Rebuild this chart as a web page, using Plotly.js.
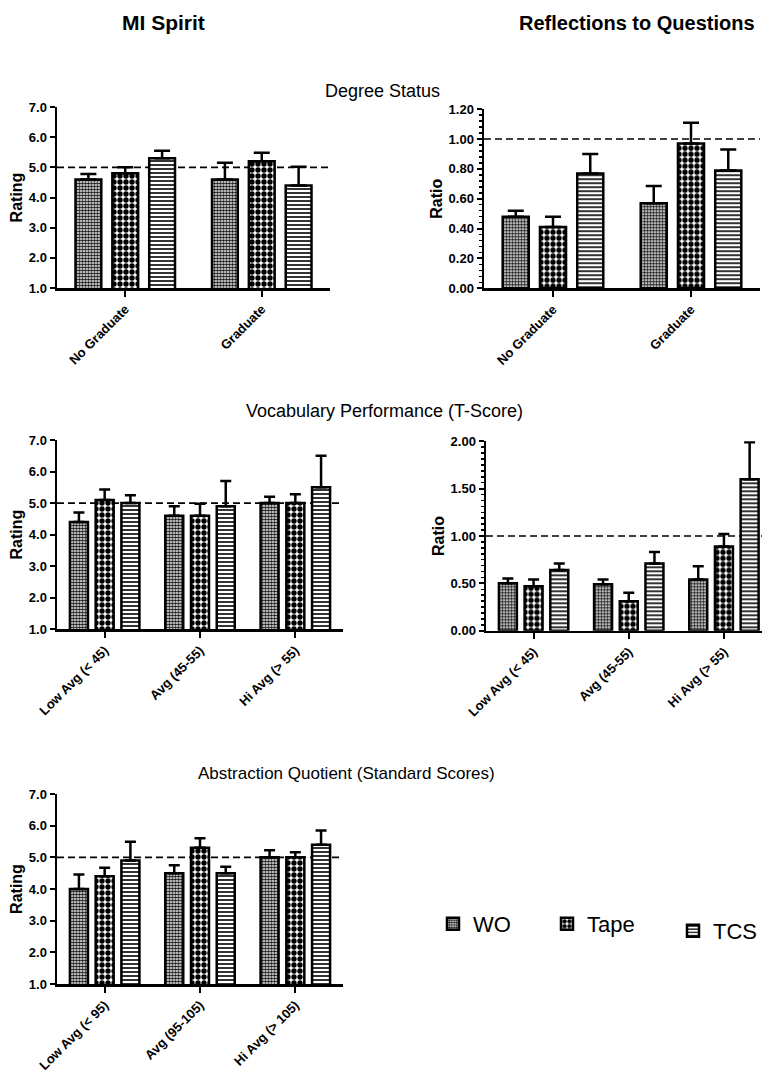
<!DOCTYPE html>
<html>
<head>
<meta charset="utf-8">
<script src="https://cdn.plot.ly/plotly-3.0.1.min.js"></script>
<style>
  html, body { margin: 0; padding: 0; background: #ffffff; }
  #chart { width: 762px; height: 1077px; }
</style>
</head>
<body>
<div id="chart"></div>
<script>
// ---------------- DATA ----------------
const seriesNames = ['WO', 'Tape', 'TCS'];

const degreeCats = ['No Graduate', 'Graduate'];
const vocabCats = ['Low Avg (< 45)', 'Avg (45-55)', 'Hi Avg (> 55)'];
const abstractCats = ['Low Avg (< 95)', 'Avg (95-105)', 'Hi Avg (> 105)'];

// rows: WO, Tape, TCS
const degreeSpiritMean = [[4.6, 4.6], [4.8, 5.2], [5.3, 4.4]];
const degreeSpiritErr  = [[0.18, 0.55], [0.20, 0.28], [0.25, 0.62]];

const degreeRatioMean = [[0.48, 0.57], [0.41, 0.97], [0.77, 0.79]];
const degreeRatioErr  = [[0.04, 0.115], [0.07, 0.14], [0.13, 0.14]];

const vocabSpiritMean = [[4.4, 4.6, 5.0], [5.1, 4.6, 5.0], [5.0, 4.9, 5.5]];
const vocabSpiritErr  = [[0.30, 0.30, 0.20], [0.33, 0.38, 0.28], [0.25, 0.80, 1.00]];

const vocabRatioMean = [[0.50, 0.49, 0.54], [0.47, 0.31, 0.89], [0.64, 0.71, 1.60]];
const vocabRatioErr  = [[0.05, 0.05, 0.14], [0.07, 0.09, 0.13], [0.07, 0.12, 0.39]];

const abstractSpiritMean = [[4.0, 4.5, 5.0], [4.4, 5.3, 5.0], [4.9, 4.5, 5.4]];
const abstractSpiritErr  = [[0.46, 0.25, 0.22], [0.27, 0.30, 0.16], [0.59, 0.20, 0.45]];

const ratingRefLine = 5.0;
const ratioRefLine = 1.0;

// ---------------- STYLE ----------------
const W = 762, H = 1077;
const FONT = 'Liberation Sans, Arial, Helvetica, sans-serif';
const patterns = [
  {shape: '.', size: 3, solidity: 0.65, fgcolor: '#1a1a1a', bgcolor: '#ffffff', fillmode: 'replace'},
  {shape: '.', size: 6, solidity: 0.62, fgcolor: '#000000', bgcolor: '#ffffff', fillmode: 'replace'},
  {shape: '-', size: 4, solidity: 0.4, fgcolor: '#000000', bgcolor: '#ffffff', fillmode: 'replace'}
];
const xd = (a, b) => [a / W, b / W];
const yd = (top, bottom) => [1 - bottom / H, 1 - top / H];

const panels = [
  {cats: degreeCats, mean: degreeSpiritMean, err: degreeSpiritErr, ax: '', cap: 8,
   xdom: xd(57, 330), ydom: yd(107, 288), yrange: [1, 7], dtick: 1, fmt: '.1f', title: 'Rating', ref: ratingRefLine, xr: [-0.5, 1.5]},
  {cats: degreeCats, mean: degreeRatioMean, err: degreeRatioErr, ax: '2', cap: 8,
   xdom: xd(484, 760), ydom: yd(109.2, 288.3), yrange: [0, 1.2], dtick: 0.2, fmt: '.2f', title: 'Ratio', ref: ratioRefLine, xr: [-0.5, 1.5], minor: 0.04},
  {cats: vocabCats, mean: vocabSpiritMean, err: vocabSpiritErr, ax: '3', cap: 5.5,
   xdom: xd(57, 343), ydom: yd(440, 629.3), yrange: [1, 7], dtick: 1, fmt: '.1f', title: 'Rating', ref: ratingRefLine, xr: [-0.5, 2.5]},
  {cats: vocabCats, mean: vocabRatioMean, err: vocabRatioErr, ax: '4', cap: 5.5,
   xdom: xd(486, 762), ydom: yd(441.3, 630.7), yrange: [0, 2], dtick: 0.5, fmt: '.2f', title: 'Ratio', ref: ratioRefLine, xr: [-0.5, 2.4], minor: 0.0625},
  {cats: abstractCats, mean: abstractSpiritMean, err: abstractSpiritErr, ax: '5', cap: 5.5,
   xdom: xd(57, 343), ydom: yd(794, 984), yrange: [1, 7], dtick: 1, fmt: '.1f', title: 'Rating', ref: ratingRefLine, xr: [-0.5, 2.5]}
];

const data = [];
const legendFont = {size: 22, family: FONT, color: '#000000'};
const layout = {
  width: W, height: H,
  margin: {l: 0, r: 0, t: 0, b: 0},
  paper_bgcolor: '#ffffff', plot_bgcolor: '#ffffff',
  barmode: 'group', bargap: 0.19, bargroupgap: 0.3,
  font: {family: FONT, color: '#000000'},
  shapes: [], annotations: [],
  legend:  {x: 433 / W, y: 1 - 903 / H, xanchor: 'left', yanchor: 'top', orientation: 'h', font: legendFont, bgcolor: 'rgba(0,0,0,0)'},
  legend2: {x: 547 / W, y: 1 - 903 / H, xanchor: 'left', yanchor: 'top', orientation: 'h', font: legendFont, bgcolor: 'rgba(0,0,0,0)'},
  legend3: {x: 673 / W, y: 1 - 910 / H, xanchor: 'left', yanchor: 'top', orientation: 'h', font: legendFont, bgcolor: 'rgba(0,0,0,0)'}
};
const legendIds = ['legend', 'legend2', 'legend3'];

panels.forEach((p, pi) => {
  const xName = 'x' + p.ax, yName = 'y' + p.ax;
  seriesNames.forEach((s, si) => {
    data.push({
      type: 'bar', name: s, x: p.cats, y: p.mean[si],
      xaxis: xName, yaxis: yName,
      showlegend: pi === 0, legend: legendIds[si],
      marker: {color: '#ffffff', line: {color: '#000000', width: 2.5}, pattern: patterns[si]},
      error_y: {type: 'data', symmetric: false, array: p.err[si], arrayminus: p.err[si].map(() => 0),
                color: '#000000', thickness: 2.5, width: p.cap},
      hoverinfo: 'skip'
    });
  });
  layout['xaxis' + p.ax] = {
    domain: p.xdom, anchor: yName, type: 'category', range: p.xr,
    showline: true, linecolor: '#000000', linewidth: 2.5, mirror: false,
    ticks: 'outside', ticklen: 6, tickwidth: 2, tickcolor: '#000000',
    tickangle: -45, tickfont: {family: FONT, size: 13, weight: 'bold', color: '#000000'},
    showgrid: false, zeroline: false, fixedrange: true
  };
  const yax = {
    domain: p.ydom, anchor: xName, range: p.yrange, dtick: p.dtick, tick0: 0, tickformat: p.fmt,
    showline: true, linecolor: '#000000', linewidth: 2.5,
    ticks: 'outside', ticklen: 5, tickwidth: 2, tickcolor: '#000000',
    tickfont: {family: FONT, size: 13, weight: 'bold', color: '#000000'},
    showgrid: false, zeroline: false, fixedrange: true,
    title: {text: p.title, font: {family: FONT, size: 16, weight: 'bold', color: '#000000'}, standoff: 2}
  };
  if (p.minor) {
    yax.minor = {dtick: p.minor, ticks: 'outside', ticklen: 3, tickwidth: 1.5, tickcolor: '#000000', showgrid: false};
  }
  layout['yaxis' + p.ax] = yax;
  layout.shapes.push({
    type: 'line', xref: xName + ' domain', yref: yName, x0: 0, x1: 1, y0: p.ref, y1: p.ref,
    line: {color: '#000000', width: 1.6, dash: '7px,4px'}, layer: 'below'
  });
});

const ann = (text, px, py, size, bold) => ({
  text: text, xref: 'paper', yref: 'paper', x: px / W, y: 1 - py / H,
  xanchor: 'center', yanchor: 'middle', showarrow: false,
  font: {family: FONT, size: size, weight: bold ? 'bold' : 'normal', color: '#000000'}
});
layout.annotations.push(ann('MI Spirit', 163, 23, 21, true));
layout.annotations.push(ann('Reflections to Questions', 637, 23, 20, true));
layout.annotations.push(ann('Degree Status', 382, 91, 18, false));
layout.annotations.push(ann('Vocabulary Performance (T-Score)', 384, 411, 18, false));
layout.annotations.push(ann('Abstraction Quotient (Standard Scores)', 346, 773, 17, false));

Plotly.newPlot('chart', data, layout, {displayModeBar: false, staticPlot: true});
</script>
</body>
</html>
